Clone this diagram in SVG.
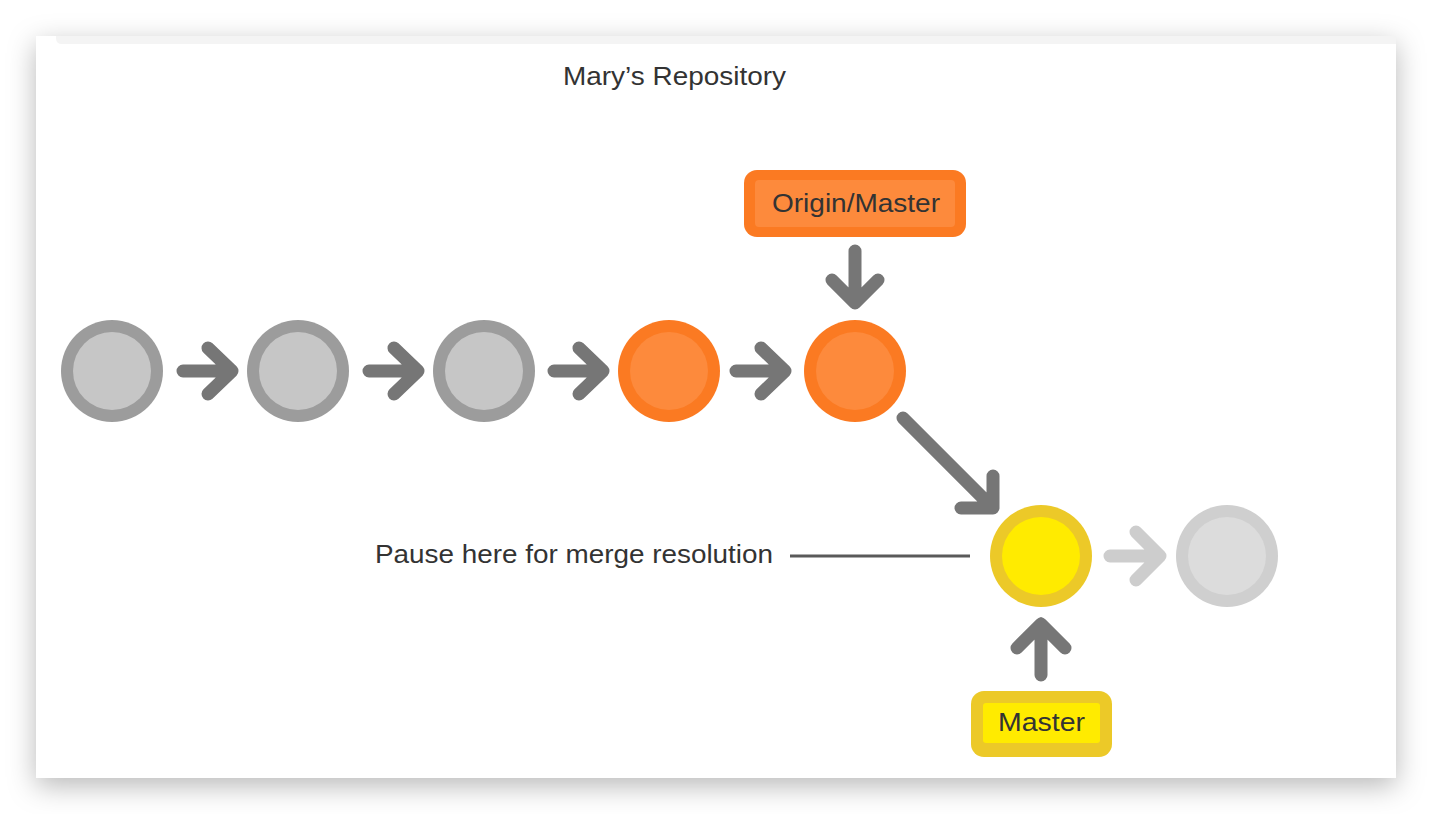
<svg xmlns="http://www.w3.org/2000/svg" width="1432" height="814" viewBox="0 0 1432 814">
<defs>
<filter id="shadow" x="-10%" y="-15%" width="120%" height="135%">
<feDropShadow dx="0" dy="8" stdDeviation="14" flood-color="#000" flood-opacity="0.28"/>
</filter>
<style>
.txt{font-family:"Liberation Sans",Arial,sans-serif;font-size:25px;fill:#333}
.arrow{fill:none;stroke:#767676;stroke-width:13;stroke-linecap:round;stroke-linejoin:round}
.arrow.light{stroke:#cdcdcd}
.gray .o{fill:#9c9c9c}.gray .i{fill:#c6c6c6}
.orange .o{fill:#fb7a22}.orange .i{fill:#fd8a3c}
.yellow .o{fill:#ecc928}.yellow .i{fill:#ffeb00}
.pale .o{fill:#cfcfcf}.pale .i{fill:#dcdcdc}
</style>
</defs>
<rect width="1432" height="814" fill="#ffffff"/>
<rect x="36" y="36" width="1360" height="742" fill="#ffffff" filter="url(#shadow)"/>
<path d="M56 36 H1396 V44 H62 Q56 44 56 38 Z" fill="#f4f4f4"/>
<text class="txt" x="563" y="85" textLength="223" lengthAdjust="spacingAndGlyphs">Mary’s Repository</text>

<g id="connectors">
<path class="arrow" d="M183 371 H232 M208 348 L232 371 L208 394"/>
<path class="arrow" d="M369 371 H418 M394 348 L418 371 L394 394"/>
<path class="arrow" d="M554 371 H603 M579 348 L603 371 L579 394"/>
<path class="arrow" d="M736 371 H785 M761 348 L785 371 L761 394"/>
<path class="arrow" d="M855 251 V303 M832 280 L855 303 L878 280"/>
<path class="arrow" d="M903 418 L993 508 M993 476 V508 H961"/>
<path class="arrow light" d="M1110 556 H1160 M1136 532 L1160 556 L1136 580"/>
<path class="arrow" d="M1041 675 V624 M1017 648 L1041 624 L1065 648"/>
<line x1="790" y1="556" x2="970" y2="556" stroke="#5a5a5a" stroke-width="3"/>
</g>

<g id="c1" class="gray"><circle class="o" cx="112" cy="371" r="51"/><circle class="i" cx="112" cy="371" r="39"/></g>
<g id="c2" class="gray"><circle class="o" cx="298" cy="371" r="51"/><circle class="i" cx="298" cy="371" r="39"/></g>
<g id="c3" class="gray"><circle class="o" cx="484" cy="371" r="51"/><circle class="i" cx="484" cy="371" r="39"/></g>
<g id="c4" class="orange"><circle class="o" cx="669" cy="371" r="51"/><circle class="i" cx="669" cy="371" r="39"/></g>
<g id="c5" class="orange"><circle class="o" cx="855" cy="371" r="51"/><circle class="i" cx="855" cy="371" r="39"/></g>
<g id="c6" class="yellow"><circle class="o" cx="1041" cy="556" r="51"/><circle class="i" cx="1041" cy="556" r="39"/></g>
<g id="c7" class="pale"><circle class="o" cx="1227" cy="556" r="51"/><circle class="i" cx="1227" cy="556" r="39"/></g>

<g id="origin-master" class="orange">
<rect class="o" x="744" y="170" width="222" height="67" rx="13"/>
<rect class="i" x="755" y="180" width="200" height="47" rx="4"/>
<text class="txt" x="772" y="212" textLength="168" lengthAdjust="spacingAndGlyphs">Origin/Master</text>
</g>
<g id="master" class="yellow">
<rect class="o" x="971" y="691" width="141" height="66" rx="13"/>
<rect class="i" x="983" y="703" width="117" height="40" rx="3"/>
<text class="txt" x="998" y="731" textLength="87" lengthAdjust="spacingAndGlyphs">Master</text>
</g>
<g id="pause-label">
<text class="txt" x="375" y="563" textLength="398" lengthAdjust="spacingAndGlyphs">Pause here for merge resolution</text>
</g>
</svg>
